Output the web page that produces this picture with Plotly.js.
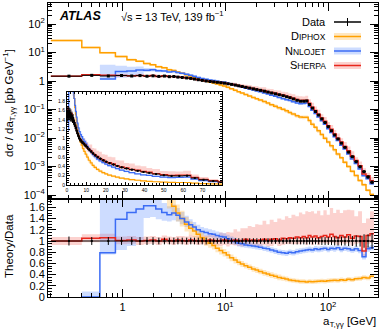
<!DOCTYPE html>
<html>
<head>
<meta charset="utf-8">
<script src="https://cdn.plot.ly/plotly-3.0.1.min.js"></script>
<style>
  html, body { margin: 0; padding: 0; background: #fff; }
  #plot { width: 390px; height: 331px; }
</style>
</head>
<body>
<div id="plot"></div>
<script>
// a_T,gg bin edges [GeV]
const binEdges = [0.2, 0.4, 0.6, 0.85, 1.1, 1.35, 1.6, 1.85, 2.1, 2.4,
  2.7, 3.0, 3.3, 3.6, 4.0, 4.4, 4.8, 5.2, 5.7, 6.2,
  6.8, 7.4, 8.0, 8.7, 9.4, 10.2, 11, 12, 13, 14,
  15.2, 16.5, 18, 19.5, 21, 23, 25, 27, 29.5, 32,
  35, 38, 41, 44, 48, 52, 56, 60, 64, 68,
  73, 78, 84, 90, 97, 104, 112, 120, 130, 140,
  152, 165, 180, 196, 214, 234, 256, 280];

// measured dsigma/da_T [pb/GeV]
const dataXsec = [1.48, 1.58, 1.50, 1.56, 1.50, 1.55, 1.47, 1.52, 1.45, 1.49,
  1.42, 1.44, 1.37, 1.33, 1.28, 1.23, 1.17, 1.11, 1.05, 1.00,
  0.96, 0.93, 0.90, 0.87, 0.84, 0.80, 0.76, 0.72, 0.68, 0.64,
  0.60, 0.565, 0.53, 0.50, 0.47, 0.44, 0.41, 0.38, 0.355, 0.33,
  0.305, 0.28, 0.26, 0.235, 0.21, 0.195, 0.195, 0.20, 0.15, 0.112,
  0.085, 0.064, 0.047, 0.035, 0.025, 0.018, 0.0128, 0.0093, 0.0066, 0.0047,
  0.0032, 0.0022, 0.00148, 0.00098, 0.00066, 0.00043, 0.00028];
// data uncertainty (relative)
const dataErr = [0.08, 0.07, 0.07, 0.07, 0.07, 0.07, 0.07, 0.07, 0.06, 0.06,
  0.06, 0.06, 0.06, 0.06, 0.06, 0.06, 0.06, 0.06, 0.06, 0.06,
  0.05, 0.05, 0.05, 0.05, 0.05, 0.05, 0.05, 0.05, 0.05, 0.05,
  0.05, 0.05, 0.05, 0.05, 0.05, 0.05, 0.05, 0.05, 0.05, 0.05,
  0.05, 0.05, 0.05, 0.06, 0.06, 0.06, 0.06, 0.06, 0.06, 0.06,
  0.06, 0.06, 0.07, 0.07, 0.07, 0.07, 0.08, 0.08, 0.08, 0.08,
  0.09, 0.09, 0.10, 0.10, 0.12, 0.12, 0.14];

// theory / data
const diphoxRatio = [17.8, 9.5, 6.6, 4.6, 3.75, 3.2, 2.8, 2.45, 2.2, 1.95,
  1.75, 1.62, 1.5, 1.4, 1.3, 1.23, 1.18, 1.12, 1.06, 1.0,
  0.96, 0.92, 0.87, 0.83, 0.79, 0.75, 0.7, 0.66, 0.62, 0.59,
  0.56, 0.53, 0.5, 0.48, 0.455, 0.43, 0.41, 0.39, 0.37, 0.35,
  0.335, 0.32, 0.305, 0.295, 0.285, 0.278, 0.275, 0.27, 0.275, 0.272,
  0.278, 0.28, 0.285, 0.282, 0.29, 0.295, 0.3, 0.293, 0.31, 0.3,
  0.315, 0.31, 0.325, 0.33, 0.35, 0.34, 0.37];
const diphoxUnc = [1.4, 0.8, 0.55, 0.4, 0.32, 0.28, 0.25, 0.22, 0.2, 0.18,
  0.17, 0.16, 0.15, 0.14, 0.13, 0.12, 0.11, 0.1, 0.09, 0.085,
  0.08, 0.07, 0.07, 0.07, 0.065, 0.065, 0.06, 0.06, 0.055, 0.055,
  0.05, 0.05, 0.05, 0.05, 0.05, 0.05, 0.05, 0.05, 0.05, 0.05,
  0.045, 0.045, 0.04, 0.04, 0.04, 0.04, 0.04, 0.04, 0.04, 0.04,
  0.04, 0.04, 0.04, 0.04, 0.04, 0.04, 0.04, 0.04, 0.04, 0.04,
  0.04, 0.04, 0.04, 0.04, 0.04, 0.04, 0.04];

const nnlojetRatio = [null, 0, 0.79, 1.39, 1.51, 1.57, 1.63, 1.63, 1.57, 1.51,
  1.47, 1.5, 1.46, 1.4, 1.34, 1.29, 1.25, 1.2, 1.17, 1.15,
  1.13, 1.12, 1.1, 1.08, 1.07, 1.04, 1.01, 0.99, 0.96, 0.95,
  0.93, 0.92, 0.91, 0.9, 0.89, 0.87, 0.86, 0.84, 0.82, 0.8,
  0.79, 0.78, 0.8, 0.79, 0.81, 0.82, 0.83, 0.84, 0.85, 0.84,
  0.86, 0.85, 0.86, 0.87, 0.85, 0.87, 0.86, 0.88, 0.85, 0.87,
  0.86, 0.84, 0.86, 0.83, 0.72, 0.86, 0.88];
const nnlojetUp = [null, 0.1, 1.7, 0.8, 0.6, 0.5, 0.3, 0.25, 0.2, 0.17,
  0.15, 0.15, 0.13, 0.12, 0.11, 0.1, 0.09, 0.09, 0.08, 0.08,
  0.08, 0.07, 0.07, 0.07, 0.07, 0.07, 0.07, 0.07, 0.07, 0.07,
  0.06, 0.06, 0.05, 0.05, 0.05, 0.05, 0.05, 0.05, 0.05, 0.05,
  0.05, 0.05, 0.05, 0.05, 0.05, 0.05, 0.05, 0.05, 0.05, 0.05,
  0.05, 0.05, 0.05, 0.05, 0.05, 0.05, 0.05, 0.05, 0.05, 0.05,
  0.05, 0.05, 0.05, 0.05, 0.05, 0.05, 0.05];
const nnlojetDn = [null, 0, 0.03, 0.55, 0.6, 0.57, 0.22, 0.2, 0.18, 0.15,
  0.12, 0.13, 0.11, 0.1, 0.09, 0.08, 0.07, 0.07, 0.07, 0.07,
  0.06, 0.06, 0.06, 0.06, 0.06, 0.06, 0.06, 0.06, 0.06, 0.06,
  0.05, 0.05, 0.05, 0.05, 0.05, 0.05, 0.05, 0.05, 0.05, 0.05,
  0.05, 0.05, 0.05, 0.05, 0.05, 0.05, 0.05, 0.05, 0.05, 0.05,
  0.05, 0.05, 0.05, 0.05, 0.05, 0.05, 0.05, 0.05, 0.05, 0.05,
  0.05, 0.05, 0.05, 0.05, 0.05, 0.05, 0.05];

const sherpaRatio = [1.0, 1.05, 1.06, 1.01, 1.02, 1.0, 1.01, 1.02, 1.0, 1.03,
  1.01, 1.0, 1.02, 1.01, 1.0, 1.02, 1.01, 1.0, 1.01, 1.0,
  1.02, 1.01, 1.0, 1.01, 1.02, 1.0, 1.01, 1.02, 1.0, 1.01,
  1.03, 1.01, 1.02, 1.0, 1.02, 1.03, 1.01, 1.03, 1.04, 1.02,
  1.05, 1.04, 1.06, 1.05, 1.07, 1.06, 1.08, 1.06, 1.1, 1.07,
  1.09, 1.06, 1.08, 1.1, 1.07, 1.12, 1.08, 1.06, 1.1, 1.07,
  1.11, 1.05, 1.09, 1.08, 0.82, 1.1, 1.13];
const sherpaUp = [0.07, 0.07, 0.07, 0.07, 0.07, 0.07, 0.07, 0.07, 0.07, 0.07,
  0.07, 0.07, 0.07, 0.08, 0.08, 0.09, 0.08, 0.1, 0.09, 0.1,
  0.11, 0.12, 0.1, 0.14, 0.12, 0.16, 0.14, 0.19, 0.17, 0.22,
  0.2, 0.26, 0.23, 0.3, 0.27, 0.33, 0.29, 0.35, 0.3, 0.38,
  0.33, 0.4, 0.35, 0.42, 0.37, 0.45, 0.4, 0.47, 0.42, 0.46,
  0.4, 0.48, 0.38, 0.45, 0.4, 0.47, 0.42, 0.5, 0.4, 0.48,
  0.45, 0.5, 0.35, 0.45, 0.5, 0.3, 0.4];
const sherpaDn = [0.07, 0.07, 0.07, 0.07, 0.07, 0.07, 0.07, 0.07, 0.07, 0.07,
  0.07, 0.07, 0.07, 0.07, 0.07, 0.07, 0.07, 0.07, 0.07, 0.07,
  0.08, 0.09, 0.08, 0.1, 0.09, 0.1, 0.08, 0.1, 0.09, 0.11,
  0.1, 0.09, 0.11, 0.1, 0.12, 0.1, 0.11, 0.12, 0.1, 0.11,
  0.12, 0.1, 0.12, 0.11, 0.13, 0.12, 0.11, 0.13, 0.12, 0.14,
  0.12, 0.13, 0.11, 0.14, 0.12, 0.15, 0.12, 0.13, 0.14, 0.12,
  0.15, 0.13, 0.14, 0.12, 0.1, 0.15, 0.16];

const colDip = '#ffa000', colNnlo = '#3b6cf5', colSherpa = '#e8261c';
const bandDip = 'rgba(255,175,50,0.3)', bandNnlo = 'rgba(90,140,255,0.3)', bandSherpa = 'rgba(245,105,95,0.3)';
const FONT = 'Liberation Sans, Arial, sans-serif';

// hv step points, leading nulls skipped
function stepXY(vals) {
  const x = [], y = [];
  let last = -1;
  vals.forEach((v, i) => {
    if (v == null) return;
    x.push(binEdges[i]); y.push(v); last = i;
  });
  x.push(binEdges[last + 1]); y.push(vals[last]);
  return {x, y};
}

function toAbs(arr) {
  return arr.map((v, i) => (v == null || v <= 0) ? null : v * dataXsec[i]);
}

function bandTraces(r, up, dn, abs, color, xa, ya) {
  let lo = r.map((v, i) => v == null ? null : v - dn[i]);
  let hi = r.map((v, i) => v == null ? null : v + up[i]);
  if (abs) {
    lo = toAbs(lo);
    hi = toAbs(hi).map((v, i) => lo[i] == null ? null : v);
  }
  const a = stepXY(lo), b = stepXY(hi);
  return [
    {x: a.x, y: a.y, xaxis: xa, yaxis: ya, mode: 'lines', line: {shape: 'hv', width: 0},
     hoverinfo: 'skip', showlegend: false},
    {x: b.x, y: b.y, xaxis: xa, yaxis: ya, mode: 'lines', line: {shape: 'hv', width: 0},
     fill: 'tonexty', fillcolor: color, hoverinfo: 'skip', showlegend: false}
  ];
}

function lineTrace(r, abs, color, xa, ya, w) {
  const s = stepXY(abs ? toAbs(r) : r);
  return {x: s.x, y: s.y, xaxis: xa, yaxis: ya, mode: 'lines',
    line: {shape: 'hv', color: color, width: w}, showlegend: false};
}

function dataTrace(abs, xa, ya, msize) {
  const xc = dataXsec.map((_, i) => (binEdges[i] + binEdges[i + 1]) / 2);
  const xe = dataXsec.map((_, i) => (binEdges[i + 1] - binEdges[i]) / 2);
  const y = abs ? dataXsec : dataXsec.map(() => 1);
  const ey = abs ? dataXsec.map((v, i) => v * dataErr[i]) : dataErr;
  return {x: xc, y: y, xaxis: xa, yaxis: ya, mode: 'markers', showlegend: false,
    marker: {symbol: 'square', size: msize, color: 'black'},
    error_x: {type: 'data', array: xe, color: 'black', thickness: 1, width: 0},
    error_y: {type: 'data', array: ey, color: 'black', thickness: 1, width: 0}};
}

function panel(abs, xa, ya, lw, msize) {
  return [].concat(
    bandTraces(sherpaRatio, sherpaUp, sherpaDn, abs, bandSherpa, xa, ya),
    bandTraces(nnlojetRatio, nnlojetUp, nnlojetDn, abs, bandNnlo, xa, ya),
    bandTraces(diphoxRatio, diphoxUnc, diphoxUnc, abs, bandDip, xa, ya),
    [lineTrace(diphoxRatio, abs, colDip, xa, ya, lw),
     lineTrace(nnlojetRatio, abs, colNnlo, xa, ya, lw),
     lineTrace(sherpaRatio, abs, colSherpa, xa, ya, lw),
     dataTrace(abs, xa, ya, msize)]
  );
}

const traces = [].concat(
  panel(true, 'x2', 'y2', 1.5, 3),
  panel(false, 'x', 'y', 1.5, 2),
  panel(true, 'x3', 'y3', 1.2, 2)
);

// tick positions
const logMinorX = [];
[0.1, 1, 10, 100].forEach(d => { for (let k = 2; k <= 9; k++) logMinorX.push(k * d); });
const logMinorY = [];
[1e-5, 1e-4, 1e-3, 1e-2, 1e-1, 1, 10, 100].forEach(d => { for (let k = 2; k <= 9; k++) logMinorY.push(k * d); });

const axBase = {showline: true, linecolor: 'black', linewidth: 1, mirror: 'allticks',
  ticks: 'inside', tickcolor: 'black', ticklen: 8, tickwidth: 1, showgrid: false,
  zeroline: false, tickfont: {size: 11, color: 'black', family: FONT}};

const xLog = Object.assign({}, axBase, {
  type: 'log', range: [-0.727, 2.486],
  tickmode: 'array', tickvals: [1, 10, 100], ticktext: ['1', '10<sup>1</sup>', '10<sup>2</sup>'],
  minor: {tickmode: 'array', tickvals: logMinorX, ticks: 'inside', ticklen: 4, tickcolor: 'black'}
});

const PX = px => (px - 48) / 330;
const PY = py => (297 - py) / 294;

const legendRows = [
  {label: 'Data', y: 22, col: 'black', band: null},
  {label: 'D<span style="font-size:8.5px">IPHOX</span>', y: 36.5, col: colDip, band: bandDip},
  {label: 'N<span style="font-size:8.5px">NLOJET</span>', y: 51, col: colNnlo, band: bandNnlo},
  {label: 'S<span style="font-size:8.5px">HERPA</span>', y: 65.5, col: colSherpa, band: bandSherpa}
];

const shapes = [];
const annotations = [
  {text: '<b><i>ATLAS</i></b>', x: PX(57), y: PY(16), xanchor: 'left', yanchor: 'middle', font: {size: 12.5}},
  {text: '√s = 13 TeV, 139 fb<sup>−1</sup>', x: PX(119), y: PY(16), xanchor: 'left', yanchor: 'middle', font: {size: 11}},
  {text: 'dσ / da<sub>T,γγ</sub> [pb GeV<sup>−1</sup>]', x: PX(9), y: PY(103), textangle: -90, xanchor: 'center', yanchor: 'middle', font: {size: 11.5}},
  {text: 'Theory/Data', x: PX(9), y: PY(246), textangle: -90, xanchor: 'center', yanchor: 'middle', font: {size: 11.5}},
  {text: 'a<sub>T,γγ</sub> [GeV]', x: PX(378), y: PY(322), xanchor: 'right', yanchor: 'middle', font: {size: 11.5}}
];
legendRows.forEach(r => {
  annotations.push({text: r.label, x: PX(328), y: PY(r.y), xanchor: 'right', yanchor: 'middle', font: {size: 11}});
  if (r.band) {
    shapes.push({type: 'rect', xref: 'paper', yref: 'paper', x0: PX(334), x1: PX(361), y0: PY(r.y - 3.5), y1: PY(r.y + 3.5),
      fillcolor: r.band, line: {width: 0}});
  } else {
    shapes.push({type: 'line', xref: 'paper', yref: 'paper', x0: PX(347.5), x1: PX(347.5), y0: PY(r.y - 4), y1: PY(r.y + 4),
      line: {color: 'black', width: 1}});
  }
  shapes.push({type: 'line', xref: 'paper', yref: 'paper', x0: PX(334), x1: PX(361), y0: PY(r.y), y1: PY(r.y),
    line: {color: r.col, width: 1.5}});
});
annotations.forEach(a => {
  a.xref = 'paper'; a.yref = 'paper'; a.showarrow = false;
  a.font = Object.assign({family: FONT, color: 'black'}, a.font);
});

const layout = {
  width: 390, height: 331,
  margin: {l: 48, r: 12, t: 3, b: 34},
  paper_bgcolor: 'white', plot_bgcolor: 'white',
  font: {family: FONT, color: 'black'},
  showlegend: false,
  xaxis: Object.assign({}, xLog, {domain: [0, 1], anchor: 'y'}),
  xaxis2: Object.assign({}, xLog, {domain: [0, 1], anchor: 'y2', matches: 'x', showticklabels: false}),
  yaxis: Object.assign({}, axBase, {
    domain: [0, 0.3333], anchor: 'x', range: [0, 1.75],
    tickmode: 'array', tickvals: [0, 0.2, 0.4, 0.6, 0.8, 1, 1.2, 1.4, 1.6],
    ticktext: ['0', '0.2', '0.4', '0.6', '0.8', '1', '1.2', '1.4', '1.6'],
    minor: {dtick: 0.05, ticks: 'inside', ticklen: 4, tickcolor: 'black'}
  }),
  yaxis2: Object.assign({}, axBase, {
    type: 'log', domain: [0.3333, 1], anchor: 'x2', range: [-4.14, 2.737],
    tickmode: 'array', tickvals: [1e-4, 1e-3, 1e-2, 1e-1, 1, 10, 100],
    ticktext: ['10<sup>−4</sup>', '10<sup>−3</sup>', '10<sup>−2</sup>', '10<sup>−1</sup>', '1', '10<sup>1</sup>', '10<sup>2</sup>'],
    minor: {tickmode: 'array', tickvals: logMinorY, ticks: 'inside', ticklen: 4, tickcolor: 'black'}
  }),
  xaxis3: Object.assign({}, axBase, {
    domain: [0.0576, 0.527], anchor: 'y3', range: [0, 80], ticklen: 3,
    tickmode: 'array', tickvals: [0, 10, 20, 30, 40, 50, 60, 70],
    tickfont: {size: 5, color: 'black', family: FONT},
    minor: {dtick: 2, ticks: 'inside', ticklen: 1.5, tickcolor: 'black'}
  }),
  yaxis3: Object.assign({}, axBase, {
    domain: [0.381, 0.697], anchor: 'x3', range: [0, 2], ticklen: 3,
    tickmode: 'array', tickvals: [0, 0.2, 0.4, 0.6, 0.8, 1, 1.2, 1.4, 1.6, 1.8],
    ticktext: ['0', '0.2', '0.4', '0.6', '0.8', '1', '1.2', '1.4', '1.6', '1.8'],
    tickfont: {size: 5, color: 'black', family: FONT},
    minor: {dtick: 0.05, ticks: 'inside', ticklen: 1.5, tickcolor: 'black'}
  }),
  shapes: shapes,
  annotations: annotations
};

Plotly.newPlot('plot', traces, layout, {staticPlot: true, displayModeBar: false});
</script>
</body>
</html>
